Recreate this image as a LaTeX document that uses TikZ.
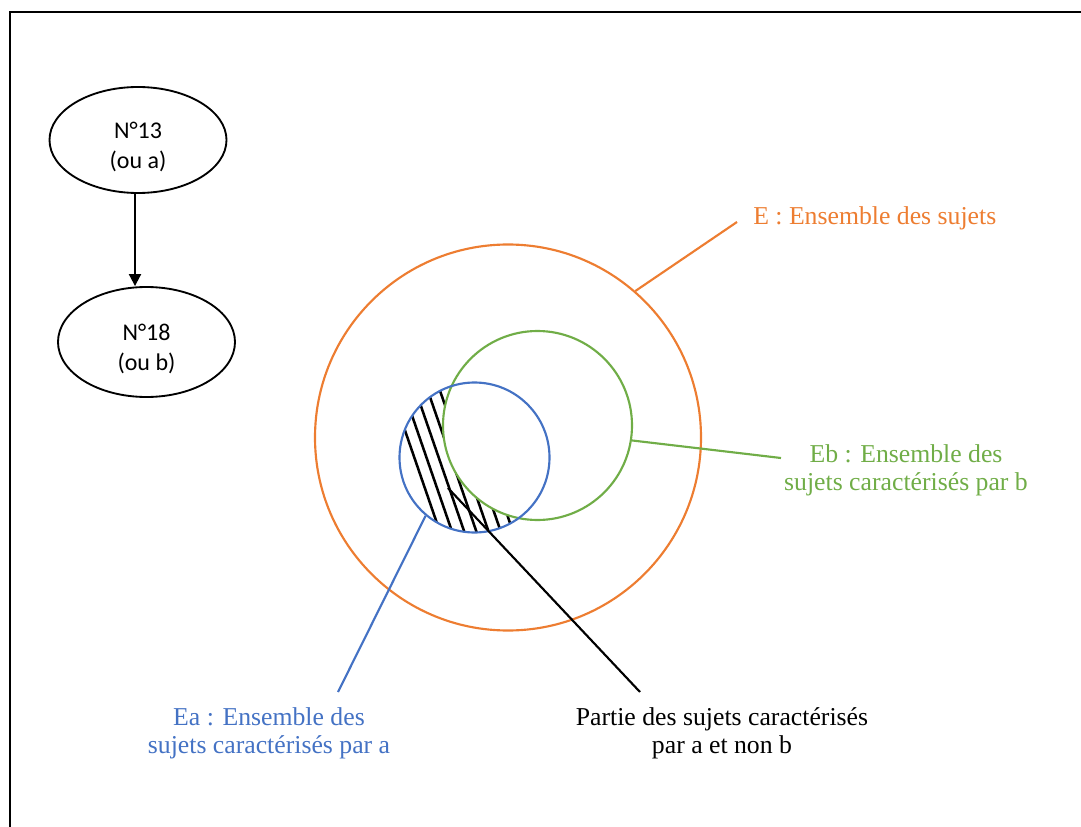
\documentclass[tikz,border=0pt]{standalone}
\usepackage{fontspec}
\setmainfont{Liberation Serif}
\newfontfamily\calibri{Carlito}
\usetikzlibrary{arrows.meta,shapes.geometric}
\definecolor{eorange}{HTML}{ED7D31}
\definecolor{egreen}{HTML}{70AD47}
\definecolor{eblue}{HTML}{4472C4}
\begin{document}
\begin{tikzpicture}[x=0.75pt,y=-0.75pt,
  setcircle/.style={circle,draw,line width=1.6pt,minimum size=#1,inner sep=0pt},
  bubble/.style={ellipse,draw,line width=1.4pt,inner sep=0pt,
    font=\calibri\fontsize{18}{22.5}\selectfont,align=center},
  lbl/.style={inner sep=0pt,anchor=base,font=\fontsize{19.3}{21.5}\selectfont},
  leader/.style={line width=1.6pt},
  hatchline/.style={line width=1.9pt}]
\useasboundingbox (0,0) rectangle (1081,827);
% frame
\draw[line width=2.2pt] (10,827) -- (10,12) -- (1081,12);

% flow ellipses
\node[bubble, minimum width=132.75pt, minimum height=79.5pt] (n13) at (138,140)
  {\rule{0pt}{23pt}N°13\\(ou a)};
\node[bubble, minimum width=132.75pt, minimum height=82.5pt] (n18) at (146.5,342)
  {\rule{0pt}{23pt}N°18\\(ou b)};
\coordinate (ax) at (135,0);
\draw[line width=1.5pt,-{Triangle[length=9pt,width=9pt]}] (n13.south -| ax) -- (n18.north -| ax);

% centres
\coordinate (cE) at (508,437.5);
\coordinate (cb) at (537.5,425.5);
\coordinate (ca) at (474.5,457.5);

% hatching of a and not b
\begin{scope}
  \clip (ca) circle[radius=75];
  \foreach \k in {744,779.3,814.7,850,885.3,920.7,956}
    \draw[hatchline] ({(370+\k)/2.9},370) -- ({(545+\k)/2.9},545);
  \fill[white] (cb) circle[radius=94.5];
\end{scope}

% sets
\node[setcircle=289.5pt, draw=eorange] (E) at (cE) {};
\node[setcircle=141.75pt, draw=egreen] (Eb) at (cb) {};
\node[setcircle=112.5pt, draw=eblue] (Ea) at (ca) {};

% labels
\node[lbl, text=eorange, anchor=base west] (Elbl) at (753,225) {E : Ensemble des sujets};
\node[lbl, text=egreen] (Eblbl) at (906,462)
  {\begin{tabular}[t]{@{}c@{}}Eb : Ensemble des\\sujets caractérisés par b\end{tabular}};
\node[lbl, text=eblue] (Ealbl) at (269,725)
  {\begin{tabular}[t]{@{}c@{}}Ea : Ensemble des\\sujets caractérisés par a\end{tabular}};
\node[lbl] (Plbl) at (722,725)
  {\begin{tabular}[t]{@{}c@{}}Partie des sujets caractérisés\\par a et non b\end{tabular}};

% leader ends
\coordinate (eEnd) at (737,222);
\coordinate (bEnd) at (781,458);
\coordinate (aEnd) at (338,692);
\coordinate (pStart) at (448,488);
\coordinate (pEnd) at (640,692);

\draw[leader, draw=eorange] (E.49.5) -- (eEnd);
\draw[leader, draw=egreen] (Eb.-9) -- (bEnd);
\draw[leader, draw=eblue] (Ea.230) -- (aEnd);
\draw[leader, draw=black] (pStart) -- (pEnd);
\end{tikzpicture}
\end{document}
